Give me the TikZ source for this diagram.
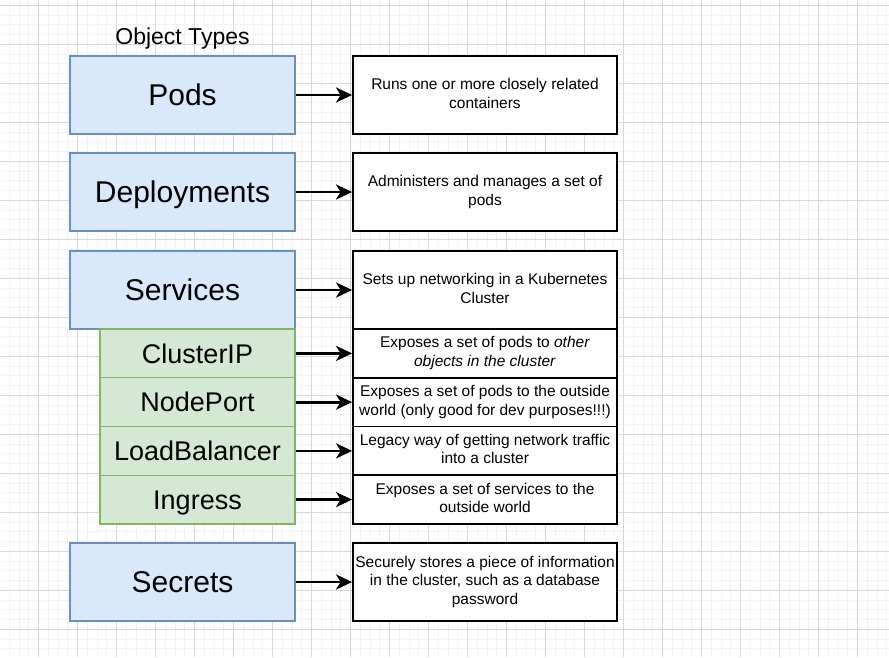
\documentclass[tikz,border=0pt]{standalone}
\usepackage{fontspec}
\setmainfont{Liberation Sans}
\usetikzlibrary{arrows.meta}
\definecolor{typefill}{HTML}{DAE8FC}
\definecolor{typeline}{HTML}{6C8EBF}
\definecolor{subfill}{HTML}{D5E8D4}
\definecolor{subline}{HTML}{82B366}
\definecolor{gridmajor}{HTML}{D8D8D8}
\definecolor{gridminor}{HTML}{F3F3F3}
\newcommand\lstrut{\rule[-.20\baselineskip]{0pt}{\baselineskip}}
\tikzset{
  typebox/.style={draw=typeline,fill=typefill,line width=1.3pt,inner sep=0pt,
    minimum width=225pt,minimum height=78pt,font=\fontsize{30}{36}\selectfont,
    execute at begin node=\lstrut},
  subbox/.style={draw=subline,fill=subfill,line width=1.3pt,inner sep=0pt,
    minimum width=195pt,minimum height=48.75pt,font=\fontsize{27}{32.4}\selectfont,
    execute at begin node=\lstrut},
  descbox/.style={draw=black,fill=white,line width=1.8pt,inner sep=0pt,align=center,
    minimum width=264pt,font=\fontsize{15.5}{18.6}\selectfont,
    execute at begin node=\lstrut,execute at end node=\lstrut},
  linkarrow/.style={-{Stealth[length=16pt,width=15pt,inset=4.5pt]},line width=2.8pt}
}
\begin{document}
\begin{tikzpicture}[x=1pt,y=-1pt]
\useasboundingbox (0,0) rectangle (889,657);
% grid
\fill[white] (0,0) rectangle (889,657);
\foreach \i in {0,...,91} \draw[gridminor,line width=1pt] ({-0.3+9.75*\i},0) -- ++(0,657);
\foreach \i in {0,...,67} \draw[gridminor,line width=1pt] (0,{-4.45+9.75*\i}) -- ++(889,0);
\foreach \i in {0,...,22} \draw[gridmajor,line width=1pt] ({-0.3+39*\i},0) -- ++(0,657);
\foreach \i in {0,...,16} \draw[gridmajor,line width=1pt] (0,{5.3+39*\i}) -- ++(889,0);

\node[anchor=base,font=\fontsize{23}{27.6}\selectfont] (title) at (182.5,44.3) {Object Types};

\node[typebox] (pods) at (182.5,95) {Pods};
\node[typebox] (deploy) at (182.5,192) {Deployments};
\node[typebox] (services) at (182.5,290) {Services};
\node[subbox] (clusterip) at (197.5,353.4) {ClusterIP};
\node[subbox] (nodeport) at (197.5,402.1) {NodePort};
\node[subbox] (loadbal) at (197.5,450.9) {LoadBalancer};
\node[subbox] (ingress) at (197.5,499.6) {Ingress};
\node[typebox] (secrets) at (182.5,582) {Secrets};

\node[descbox,minimum height=78pt] (podsdesc) at (485,95) {Runs one or more closely related\\containers};
\node[descbox,minimum height=78pt] (deploydesc) at (485,192) {Administers and manages a set of\\pods};
\node[descbox,minimum height=78pt] (servicesdesc) at (485,290) {Sets up networking in a Kubernetes\\Cluster};
\node[descbox,minimum height=48.75pt] (clusteripdesc) at (485,353.4) {Exposes a set of pods to \textit{other}\\\textit{objects in the cluster}};
\node[descbox,minimum height=48.75pt] (nodeportdesc) at (485,402.1) {Exposes a set of pods to the outside\\world (only good for dev purposes!!!)};
\node[descbox,minimum height=48.75pt] (loadbaldesc) at (485,450.9) {Legacy way of getting network traffic\\into a cluster};
\node[descbox,minimum height=48.75pt] (ingressdesc) at (485,499.6) {Exposes a set of services to the\\outside world};
\node[descbox,minimum height=78pt] (secretsdesc) at (485,582) {Securely stores a piece of information\\in the cluster, such as a database\\password};

\draw[linkarrow] (pods.east) -- (podsdesc.west);
\draw[linkarrow] (deploy.east) -- (deploydesc.west);
\draw[linkarrow] (services.east) -- (servicesdesc.west);
\draw[linkarrow] (clusterip.east) -- (clusteripdesc.west);
\draw[linkarrow] (nodeport.east) -- (nodeportdesc.west);
\draw[linkarrow] (loadbal.east) -- (loadbaldesc.west);
\draw[linkarrow] (ingress.east) -- (ingressdesc.west);
\draw[linkarrow] (secrets.east) -- (secretsdesc.west);
\end{tikzpicture}
\end{document}
